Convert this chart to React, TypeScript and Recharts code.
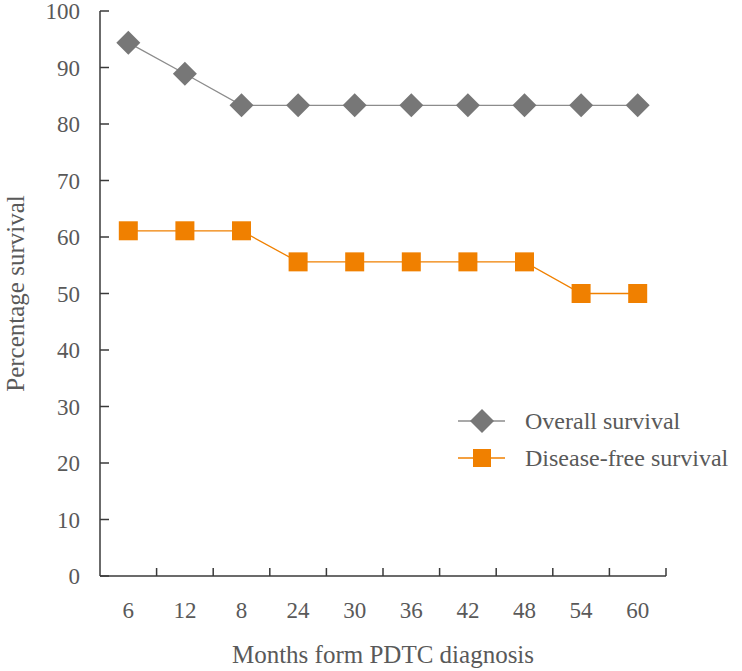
import React from 'react';
import { LineChart, Line, XAxis, YAxis, Label } from 'recharts';

const months = ['6', '12', '8', '24', '30', '36', '42', '48', '54', '60'];
const overallSurvival = [94.4, 88.9, 83.3, 83.3, 83.3, 83.3, 83.3, 83.3, 83.3, 83.3];
const diseaseFreeSurvival = [61.1, 61.1, 61.1, 55.6, 55.6, 55.6, 55.6, 55.6, 50, 50];
const yTicks = [0, 10, 20, 30, 40, 50, 60, 70, 80, 90, 100];

const data = months.map((m, i) => ({
  month: m,
  overall: overallSurvival[i],
  diseaseFree: diseaseFreeSurvival[i],
}));

const W = 742;
const H = 671;
const MARGIN = { top: 11, right: 76, bottom: 35, left: 40 };
const Y_AXIS_W = 60;
const PLOT_W = W - MARGIN.left - MARGIN.right - Y_AXIS_W;
const BAND = PLOT_W / months.length;

const FONT = '"Liberation Serif", "DejaVu Serif", serif';
const TEXT = '#595959';
const AXIS = '#3a3a3a';
const GREY = '#777777';
const GREY_LINE = '#8c8c8c';
const ORANGE = '#f08000';

const Diamond = ({ cx, cy, half = 12 }: any) => (
  <polygon
    points={`${cx},${cy - half} ${cx + half},${cy} ${cx},${cy + half} ${cx - half},${cy}`}
    fill={GREY}
  />
);

const Square = ({ cx, cy, side = 19 }: any) => (
  <rect x={cx - side / 2} y={cy - side / 2} width={side} height={side} fill={ORANGE} />
);

const XTick = (props: any) => {
  const { x, y, payload, index } = props;
  const last = index === months.length - 1;
  return (
    <g>
      {index > 0 && (
        <line x1={x - BAND / 2} x2={x - BAND / 2} y1={y} y2={y - 8} stroke={AXIS} strokeWidth={1.5} />
      )}
      {last && (
        <line x1={x + BAND / 2} x2={x + BAND / 2} y1={y} y2={y - 8} stroke={AXIS} strokeWidth={1.5} />
      )}
      <text x={x} y={y + 42} textAnchor="middle" fill={TEXT} fontSize={23} fontFamily={FONT}>
        {payload.value}
      </text>
    </g>
  );
};

const YTick = (props: any) => {
  const { x, y, payload } = props;
  return (
    <g>
      <line x1={x} x2={x + 9} y1={y} y2={y} stroke={AXIS} strokeWidth={1.5} />
      <text x={x - 20} y={y + 8} textAnchor="end" fill={TEXT} fontSize={23} fontFamily={FONT}>
        {payload.value}
      </text>
    </g>
  );
};

const ChartLegend = () => (
  <svg width={290} height={80} style={{ position: 'absolute', left: 456, top: 405 }}>
    <g>
      <line x1={2} x2={49} y1={16} y2={16} stroke={GREY_LINE} strokeWidth={1.5} />
      <Diamond cx={26} cy={16} half={12} />
      <text x={69} y={24} fill={TEXT} fontSize={24} fontFamily={FONT}>Overall survival</text>
    </g>
    <g>
      <line x1={2} x2={49} y1={53} y2={53} stroke={ORANGE} strokeWidth={1.5} />
      <Square cx={26} cy={53} side={18} />
      <text x={69} y={61} fill={TEXT} fontSize={24} fontFamily={FONT}>Disease-free survival</text>
    </g>
  </svg>
);

export default function App() {
  return (
    <div style={{ position: 'absolute', left: 0, top: 0, width: W, height: H, background: '#fff' }}>
      <LineChart width={W} height={H} data={data} margin={MARGIN}>
        <XAxis
          dataKey="month"
          height={60}
          padding={{ left: BAND / 2, right: BAND / 2 }}
          tickSize={0}
          tickMargin={0}
          tickLine={false}
          axisLine={{ stroke: AXIS, strokeWidth: 1.5 }}
          tick={<XTick />}
          interval={0}
        >
          <Label
            value="Months form PDTC diagnosis"
            position="insideBottom"
            offset={-27}
            fill={TEXT}
            fontSize={25}
            fontFamily={FONT}
          />
        </XAxis>
        <YAxis
          width={Y_AXIS_W}
          domain={[0, 100]}
          ticks={yTicks}
          tickSize={0}
          tickMargin={0}
          tickLine={false}
          axisLine={{ stroke: AXIS, strokeWidth: 1.5 }}
          tick={<YTick />}
          interval={0}
        >
          <Label
            value="Percentage survival"
            angle={-90}
            position="center"
            dx={-55}
            fill={TEXT}
            fontSize={25}
            fontFamily={FONT}
          />
        </YAxis>
        <Line
          type="linear"
          dataKey="overall"
          name="Overall survival"
          stroke={GREY_LINE}
          strokeWidth={1.3}
          dot={<Diamond />}
          activeDot={false}
          isAnimationActive={false}
        />
        <Line
          type="linear"
          dataKey="diseaseFree"
          name="Disease-free survival"
          stroke={ORANGE}
          strokeWidth={1.3}
          dot={<Square />}
          activeDot={false}
          isAnimationActive={false}
        />
      </LineChart>
      <ChartLegend />
    </div>
  );
}
